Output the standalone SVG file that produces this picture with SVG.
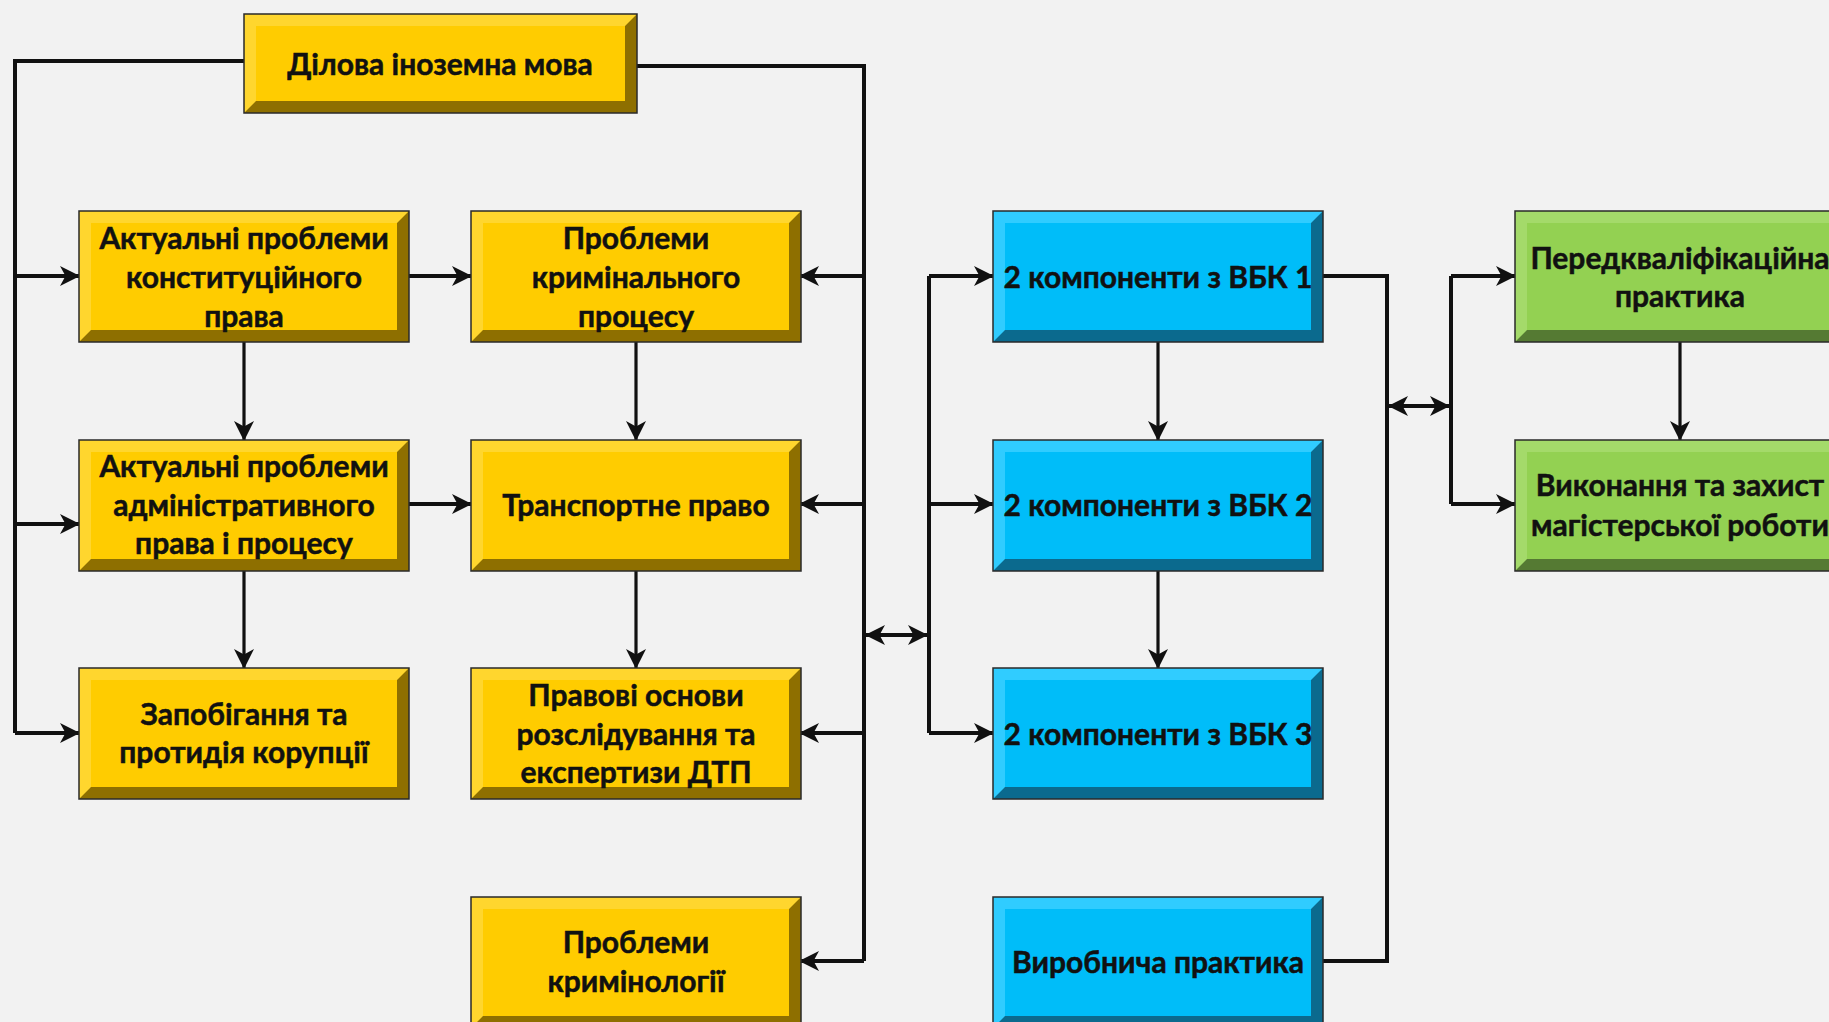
<svg xmlns="http://www.w3.org/2000/svg" width="1829" height="1022" viewBox="0 0 1829 1022">
<defs>
<style>
.dk-y{fill:#8E6F00}.lt-y{fill:#FFD62E}.fc-y{fill:#FFCC00}
.dk-b{fill:#0B6A8E}.lt-b{fill:#30CCFF}.fc-b{fill:#00BDF9}
.dk-g{fill:#557A33}.lt-g{fill:#A4DA6A}.fc-g{fill:#93D152}
.bd{fill:none;stroke:#2a2a2a;stroke-width:1.5}
.t{font-family:Lato,"Noto Sans","Liberation Sans",sans-serif;font-weight:700;font-size:30px;fill:#111;stroke:#111;stroke-width:0.5;text-anchor:middle;dominant-baseline:central}
.c{fill:none;stroke:#111;stroke-width:4}
.v{stroke-width:3.2}
.a{marker-end:url(#ah)}
.d{marker-start:url(#ah);marker-end:url(#ah)}
</style>
<marker id="ah" viewBox="0 0 20 20" refX="19" refY="10" markerWidth="20" markerHeight="20" markerUnits="userSpaceOnUse" orient="auto-start-reverse">
<path d="M0,0 L20,10 L0,20 L5.5,10 z" fill="#111"/>
</marker>
</defs>
<rect width="1829" height="1022" fill="#F2F2F2"/>

<g id="connectors">
<polyline class="c" points="244,61 15,61 15,733"/>
<line class="c a" x1="15" y1="276" x2="79" y2="276"/>
<line class="c a" x1="15" y1="524" x2="79" y2="524"/>
<line class="c a" x1="15" y1="733" x2="79" y2="733"/>
<polyline class="c" points="637,66 864,66 864,961"/>
<line class="c a" x1="864" y1="276" x2="800" y2="276"/>
<line class="c a" x1="864" y1="504" x2="800" y2="504"/>
<line class="c a" x1="864" y1="733" x2="800" y2="733"/>
<line class="c a" x1="864" y1="961" x2="800" y2="961"/>
<line class="c a" x1="409" y1="276" x2="471" y2="276"/>
<line class="c a" x1="409" y1="504" x2="471" y2="504"/>
<line class="c v a" x1="244" y1="342" x2="244" y2="440"/>
<line class="c v a" x1="244" y1="571" x2="244" y2="668"/>
<line class="c v a" x1="636" y1="342" x2="636" y2="440"/>
<line class="c v a" x1="636" y1="571" x2="636" y2="668"/>
<line class="c d" x1="866" y1="635" x2="927" y2="635"/>
<polyline class="c" points="929,276 929,733"/>
<line class="c a" x1="929" y1="276" x2="993" y2="276"/>
<line class="c a" x1="929" y1="504" x2="993" y2="504"/>
<line class="c a" x1="929" y1="733" x2="993" y2="733"/>
<line class="c v a" x1="1158" y1="342" x2="1158" y2="440"/>
<line class="c v a" x1="1158" y1="571" x2="1158" y2="668"/>
<polyline class="c" points="1323,276 1387,276 1387,961 1323,961"/>
<line class="c d" x1="1389" y1="406" x2="1449" y2="406"/>
<polyline class="c" points="1451,276 1451,504"/>
<line class="c a" x1="1451" y1="276" x2="1515" y2="276"/>
<line class="c a" x1="1451" y1="504" x2="1515" y2="504"/>
<line class="c v a" x1="1680" y1="342" x2="1680" y2="440"/>
</g>

<g id="n-dilova">
<rect class="dk-y" x="244" y="14" width="393" height="99"/>
<polygon class="lt-y" points="244,14 637,14 625,26 256,26 256,101 244,113"/>
<rect class="fc-y" x="256" y="26" width="369" height="75"/>
<rect class="bd" x="244" y="14" width="393" height="99"/>
<text class="t" x="440" y="63">Ділова іноземна мова</text>
</g>

<g id="n-konst">
<rect class="dk-y" x="79" y="211" width="330" height="131"/>
<polygon class="lt-y" points="79,211 409,211 397,223 91,223 91,330 79,342"/>
<rect class="fc-y" x="91" y="223" width="306" height="107"/>
<rect class="bd" x="79" y="211" width="330" height="131"/>
<text class="t" x="244" y="237">Актуальні проблеми</text>
<text class="t" x="244" y="276">конституційного</text>
<text class="t" x="244" y="315">права</text>
</g>

<g id="n-krymproc">
<rect class="dk-y" x="471" y="211" width="330" height="131"/>
<polygon class="lt-y" points="471,211 801,211 789,223 483,223 483,330 471,342"/>
<rect class="fc-y" x="483" y="223" width="306" height="107"/>
<rect class="bd" x="471" y="211" width="330" height="131"/>
<text class="t" x="636" y="237">Проблеми</text>
<text class="t" x="636" y="276">кримінального</text>
<text class="t" x="636" y="315">процесу</text>
</g>

<g id="n-admin">
<rect class="dk-y" x="79" y="440" width="330" height="131"/>
<polygon class="lt-y" points="79,440 409,440 397,452 91,452 91,559 79,571"/>
<rect class="fc-y" x="91" y="452" width="306" height="107"/>
<rect class="bd" x="79" y="440" width="330" height="131"/>
<text class="t" x="244" y="465">Актуальні проблеми</text>
<text class="t" x="244" y="504">адміністративного</text>
<text class="t" x="244" y="542">права і процесу</text>
</g>

<g id="n-transport">
<rect class="dk-y" x="471" y="440" width="330" height="131"/>
<polygon class="lt-y" points="471,440 801,440 789,452 483,452 483,559 471,571"/>
<rect class="fc-y" x="483" y="452" width="306" height="107"/>
<rect class="bd" x="471" y="440" width="330" height="131"/>
<text class="t" x="636" y="504">Транспортне право</text>
</g>

<g id="n-koruptsia">
<rect class="dk-y" x="79" y="668" width="330" height="131"/>
<polygon class="lt-y" points="79,668 409,668 397,680 91,680 91,787 79,799"/>
<rect class="fc-y" x="91" y="680" width="306" height="107"/>
<rect class="bd" x="79" y="668" width="330" height="131"/>
<text class="t" x="244" y="713">Запобігання та</text>
<text class="t" x="244" y="751">протидія корупції</text>
</g>

<g id="n-dtp">
<rect class="dk-y" x="471" y="668" width="330" height="131"/>
<polygon class="lt-y" points="471,668 801,668 789,680 483,680 483,787 471,799"/>
<rect class="fc-y" x="483" y="680" width="306" height="107"/>
<rect class="bd" x="471" y="668" width="330" height="131"/>
<text class="t" x="636" y="694">Правові основи</text>
<text class="t" x="636" y="733">розслідування та</text>
<text class="t" x="636" y="771">експертизи ДТП</text>
</g>

<g id="n-kryminol">
<rect class="dk-y" x="471" y="897" width="330" height="131"/>
<polygon class="lt-y" points="471,897 801,897 789,909 483,909 483,1016 471,1028"/>
<rect class="fc-y" x="483" y="909" width="306" height="107"/>
<rect class="bd" x="471" y="897" width="330" height="131"/>
<text class="t" x="636" y="941">Проблеми</text>
<text class="t" x="636" y="980">кримінології</text>
</g>

<g id="n-vbk1">
<rect class="dk-b" x="993" y="211" width="330" height="131"/>
<polygon class="lt-b" points="993,211 1323,211 1311,223 1005,223 1005,330 993,342"/>
<rect class="fc-b" x="1005" y="223" width="306" height="107"/>
<rect class="bd" x="993" y="211" width="330" height="131"/>
<text class="t" x="1158" y="276">2 компоненти з ВБК 1</text>
</g>

<g id="n-vbk2">
<rect class="dk-b" x="993" y="440" width="330" height="131"/>
<polygon class="lt-b" points="993,440 1323,440 1311,452 1005,452 1005,559 993,571"/>
<rect class="fc-b" x="1005" y="452" width="306" height="107"/>
<rect class="bd" x="993" y="440" width="330" height="131"/>
<text class="t" x="1158" y="504">2 компоненти з ВБК 2</text>
</g>

<g id="n-vbk3">
<rect class="dk-b" x="993" y="668" width="330" height="131"/>
<polygon class="lt-b" points="993,668 1323,668 1311,680 1005,680 1005,787 993,799"/>
<rect class="fc-b" x="1005" y="680" width="306" height="107"/>
<rect class="bd" x="993" y="668" width="330" height="131"/>
<text class="t" x="1158" y="733">2 компоненти з ВБК 3</text>
</g>

<g id="n-vyrobn">
<rect class="dk-b" x="993" y="897" width="330" height="131"/>
<polygon class="lt-b" points="993,897 1323,897 1311,909 1005,909 1005,1016 993,1028"/>
<rect class="fc-b" x="1005" y="909" width="306" height="107"/>
<rect class="bd" x="993" y="897" width="330" height="131"/>
<text class="t" x="1158" y="961">Виробнича практика</text>
</g>

<g id="n-peredkval">
<rect class="dk-g" x="1515" y="211" width="330" height="131"/>
<polygon class="lt-g" points="1515,211 1845,211 1833,223 1527,223 1527,330 1515,342"/>
<rect class="fc-g" x="1527" y="223" width="306" height="107"/>
<rect class="bd" x="1515" y="211" width="330" height="131"/>
<text class="t" x="1680" y="257">Передкваліфікаційна</text>
<text class="t" x="1680" y="295">практика</text>
</g>

<g id="n-mahistr">
<rect class="dk-g" x="1515" y="440" width="330" height="131"/>
<polygon class="lt-g" points="1515,440 1845,440 1833,452 1527,452 1527,559 1515,571"/>
<rect class="fc-g" x="1527" y="452" width="306" height="107"/>
<rect class="bd" x="1515" y="440" width="330" height="131"/>
<text class="t" x="1680" y="484">Виконання та захист</text>
<text class="t" x="1680" y="524">магістерської роботи</text>
</g>
</svg>
